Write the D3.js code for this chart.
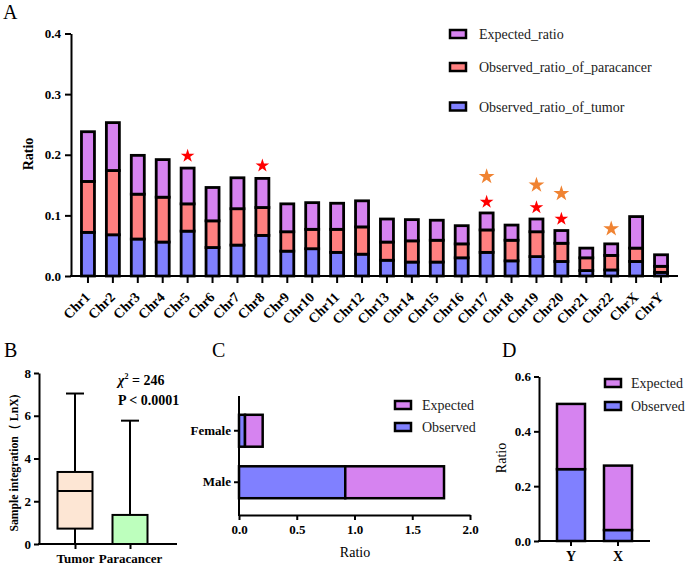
<!DOCTYPE html>
<html><head><meta charset="utf-8">
<script src="https://cdn.jsdelivr.net/npm/d3@7"></script>
<style>body{margin:0;background:#fff}svg{display:block}</style>
</head><body>
<svg id="c" width="685" height="565"></svg>
<script>
// ---------- Panel A data ----------
const chromosomes = ["Chr1","Chr2","Chr3","Chr4","Chr5","Chr6","Chr7","Chr8","Chr9","Chr10","Chr11","Chr12","Chr13","Chr14","Chr15","Chr16","Chr17","Chr18","Chr19","Chr20","Chr21","Chr22","ChrX","ChrY"];
const tumorRatio      = [0.072,0.068,0.061,0.056,0.074,0.047,0.051,0.067,0.041,0.045,0.039,0.036,0.026,0.023,0.023,0.030,0.039,0.025,0.032,0.024,0.009,0.010,0.024,0.006];
const paracancerRatio = [0.084,0.106,0.074,0.074,0.045,0.044,0.060,0.046,0.032,0.032,0.038,0.045,0.030,0.035,0.036,0.023,0.037,0.034,0.041,0.030,0.021,0.024,0.022,0.010];
const expectedRatio   = [0.082,0.079,0.064,0.062,0.059,0.055,0.051,0.048,0.046,0.044,0.043,0.043,0.038,0.035,0.033,0.030,0.028,0.025,0.021,0.021,0.016,0.019,0.052,0.019];
const seriesA = ["Observed_ratio_of_tumor","Observed_ratio_of_paracancer","Expected_ratio"];
const ticksA = [0,0.1,0.2,0.3,0.4];
const redStarChr = ["Chr5","Chr8","Chr17","Chr19","Chr20"];
const redStarY   = [0.198,0.182,0.122,0.113,0.094];
const orangeStarChr = ["Chr17","Chr19","Chr20","Chr22"];
const orangeStarY   = [0.164,0.150,0.136,0.078];

// ---------- Panel B data ----------
const groupsB = ["Tumor","Paracancer"];
const minB = [0,0];
const q1B = [0.72,0];
const medianB = [2.48,0];
const q3B = [3.37,1.36];
const maxB = [7.04,5.77];
const ticksB = [0,2,4,6,8];

// ---------- Panel C data ----------
const sexGroups = ["Female","Male"];
const sexObserved = [0.052,0.92];
const sexExpected = [0.153,0.855];
const ticksC = [0,0.5,1.0,1.5,2.0];

// ---------- Panel D data ----------
const chrGroups = ["Y","X"];
const chrObserved = [0.262,0.040];
const chrExpected = [0.238,0.235];
const ticksD = [0,0.2,0.4,0.6];

const C_EXP = "#d683f0", C_PARA = "#ff8080", C_TUM = "#8080ff";
const C_BOX_T = "#fde6d4", C_BOX_P = "#bdffbd";
const SERIF = "'Liberation Serif','Times New Roman',serif";

const svg = d3.select("#c");
svg.append("rect").attr("width",685).attr("height",565).attr("fill","#fff");

function styleAxis(g, fs, bold){
  g.selectAll("path,line").attr("stroke","#000").attr("stroke-width",2);
  g.selectAll("text").attr("font-family",SERIF).attr("font-size",fs)
    .attr("font-weight",bold?"bold":"normal").attr("fill","#000");
}
function panelLabel(t,x,y){
  svg.append("text").attr("x",x).attr("y",y).text(t)
    .attr("font-family",SERIF).attr("font-size",20).attr("fill","#000");
}
function legendItem(x,y,color,label,off){
  svg.append("rect").attr("x",x).attr("y",y-4).attr("width",16).attr("height",8)
    .attr("fill",color).attr("stroke","#000").attr("stroke-width",2.5);
  svg.append("text").attr("x",x+off).attr("y",y+5).text(label)
    .attr("font-family",SERIF).attr("font-size",14).attr("fill","#222");
}

// ================= Panel A =================
{
  const x = d3.scaleBand().domain(chromosomes).range([75.5,673.5]).paddingInner(0.48).paddingOuter(0.24);
  const y = d3.scaleLinear().domain([0,0.4]).range([276,33.5]);
  const stackData = chromosomes.map((c,i)=>({c, a:tumorRatio[i], b:paracancerRatio[i], e:expectedRatio[i]}));
  const stack = d3.stack().keys(["a","b","e"])(stackData);
  const cols = [C_TUM, C_PARA, C_EXP];
  const g = svg.append("g");
  stack.forEach((layer,li)=>{
    g.selectAll(null).data(layer).enter().append("rect")
      .attr("x",d=>x(d.data.c)+x.bandwidth()/2-6.5)
      .attr("width",13)
      .attr("y",d=>y(d[1]))
      .attr("height",d=>y(d[0])-y(d[1]))
      .attr("fill",cols[li]).attr("stroke","#000").attr("stroke-width",2.8);
  });
  const ya = svg.append("g").attr("transform","translate(71,0)")
    .call(d3.axisLeft(y).tickValues(ticksA).tickFormat(d3.format(".1f")).tickSize(6).tickSizeOuter(0).tickPadding(4));
  styleAxis(ya,13,true);
  const xa = svg.append("g").attr("transform","translate(0,276)")
    .call(d3.axisBottom(x).tickSize(7).tickSizeOuter(0));
  xa.select(".domain").remove();
  styleAxis(xa,14,true);
  xa.selectAll(".tick text").attr("text-anchor","end").attr("dy",null).attr("y",null)
    .attr("transform","translate(3,22) rotate(-45)");
  svg.append("line").attr("x1",70).attr("x2",678).attr("y1",276).attr("y2",276)
    .attr("stroke","#000").attr("stroke-width",2);
  svg.append("text").attr("transform","translate(33,154) rotate(-90)").attr("text-anchor","middle")
    .text("Ratio").attr("font-family",SERIF).attr("font-size",14).attr("font-weight","bold");
  const redStar = d3.symbol().type(d3.symbolStar).size(58);
  const orStar = d3.symbol().type(d3.symbolStar).size(78);
  redStarChr.forEach((c,i)=>{
    svg.append("path").attr("d",redStar()).attr("fill","#ff0000")
      .attr("transform",`translate(${x(c)+x.bandwidth()/2},${y(redStarY[i])})`);
  });
  orangeStarChr.forEach((c,i)=>{
    svg.append("path").attr("d",orStar()).attr("fill","#f08332")
      .attr("transform",`translate(${x(c)+x.bandwidth()/2},${y(orangeStarY[i])})`);
  });
  legendItem(450,34,C_EXP,seriesA[2],29);
  legendItem(450,67,C_PARA,seriesA[1],29);
  legendItem(450,106.5,C_TUM,seriesA[0],29);
  panelLabel("A",3,19);
}

// ================= Panel B =================
{
  const x = d3.scalePoint().domain(groupsB).range([75,130]);
  const y = d3.scaleLinear().domain([0,8]).range([544,373]);
  const fills = [C_BOX_T, C_BOX_P];
  groupsB.forEach((gname,i)=>{
    const cx = x(gname);
    svg.append("line").attr("x1",cx).attr("x2",cx).attr("y1",y(maxB[i])).attr("y2",y(q3B[i]))
      .attr("stroke","#000").attr("stroke-width",2);
    svg.append("line").attr("x1",cx).attr("x2",cx).attr("y1",y(q1B[i])).attr("y2",y(minB[i]))
      .attr("stroke","#000").attr("stroke-width",2);
    svg.append("line").attr("x1",cx-9).attr("x2",cx+9).attr("y1",y(maxB[i])).attr("y2",y(maxB[i]))
      .attr("stroke","#000").attr("stroke-width",2);
    svg.append("rect").attr("x",cx-17.5).attr("width",35).attr("y",y(q3B[i]))
      .attr("height",y(q1B[i])-y(q3B[i])).attr("fill",fills[i]).attr("stroke","#000").attr("stroke-width",2);
    svg.append("line").attr("x1",cx-17.5).attr("x2",cx+17.5).attr("y1",y(medianB[i])).attr("y2",y(medianB[i]))
      .attr("stroke","#000").attr("stroke-width",2);
  });
  const ya = svg.append("g").attr("transform","translate(39,0)")
    .call(d3.axisLeft(y).tickValues(ticksB).tickSize(5).tickSizeOuter(0).tickPadding(3));
  styleAxis(ya,13,true);
  const xa = svg.append("g").attr("transform","translate(0,544)")
    .call(d3.axisBottom(x).tickSize(5).tickSizeOuter(0).tickPadding(5));
  xa.select(".domain").remove();
  styleAxis(xa,13,true);
  svg.append("line").attr("x1",38).attr("x2",177).attr("y1",544).attr("y2",544)
    .attr("stroke","#000").attr("stroke-width",2);
  svg.append("text").attr("transform","translate(18,463) rotate(-90)").attr("text-anchor","middle")
    .attr("textLength",137).attr("lengthAdjust","spacingAndGlyphs")
    .text("Sample integration（ LnX)").attr("font-family",SERIF).attr("font-size",12.5).attr("font-weight","bold");
  const chi = svg.append("text").attr("x",118).attr("y",385).attr("font-family",SERIF)
    .attr("font-size",14).attr("font-weight","bold");
  chi.append("tspan").text("χ").attr("font-style","italic");
  chi.append("tspan").text("2").attr("font-size",8).attr("dy",-6);
  chi.append("tspan").text(" = 246").attr("dy",6);
  svg.append("text").attr("x",118).attr("y",405).text("P < 0.0001")
    .attr("font-family",SERIF).attr("font-size",14).attr("font-weight","bold");
  panelLabel("B",4,357);
}

// ================= Panel C =================
{
  const x = d3.scaleLinear().domain([0,2]).range([239,470]);
  const y = d3.scaleBand().domain(sexGroups).range([405,508]).paddingInner(0.38).paddingOuter(0.19);
  sexGroups.forEach((s,i)=>{
    svg.append("rect").attr("x",x(0)).attr("width",x(sexObserved[i])-x(0))
      .attr("y",y(s)).attr("height",y.bandwidth()).attr("fill",C_TUM).attr("stroke","#000").attr("stroke-width",2.5);
    svg.append("rect").attr("x",x(sexObserved[i])).attr("width",x(sexObserved[i]+sexExpected[i])-x(sexObserved[i]))
      .attr("y",y(s)).attr("height",y.bandwidth()).attr("fill",C_EXP).attr("stroke","#000").attr("stroke-width",2.5);
  });
  const xa = svg.append("g").attr("transform","translate(0,515)")
    .call(d3.axisBottom(x).tickValues(ticksC).tickFormat(d3.format(".1f")).tickSize(5).tickSizeOuter(0).tickPadding(5));
  styleAxis(xa,13,true);
  const ya = svg.append("g").attr("transform","translate(239,0)")
    .call(d3.axisLeft(y).tickSize(5).tickSizeOuter(0).tickPadding(3));
  ya.select(".domain").remove();
  styleAxis(ya,13,true);
  svg.append("line").attr("x1",239).attr("x2",239).attr("y1",396).attr("y2",516)
    .attr("stroke","#000").attr("stroke-width",2);
  svg.append("text").attr("x",355).attr("y",557).attr("text-anchor","middle").text("Ratio")
    .attr("font-family",SERIF).attr("font-size",14);
  legendItem(395,405,C_EXP,"Expected",27);
  legendItem(395,427,C_TUM,"Observed",27);
  panelLabel("C",212,357);
}

// ================= Panel D =================
{
  const x = d3.scaleBand().domain(chrGroups).range([539,650]).paddingInner(0.404).paddingOuter(0.383);
  const y = d3.scaleLinear().domain([0,0.6]).range([541,376.5]);
  chrGroups.forEach((c,i)=>{
    svg.append("rect").attr("x",x(c)).attr("width",x.bandwidth()).attr("y",y(chrObserved[i]))
      .attr("height",y(0)-y(chrObserved[i])).attr("fill",C_TUM).attr("stroke","#000").attr("stroke-width",2.5);
    svg.append("rect").attr("x",x(c)).attr("width",x.bandwidth()).attr("y",y(chrObserved[i]+chrExpected[i]))
      .attr("height",y(chrObserved[i])-y(chrObserved[i]+chrExpected[i])).attr("fill",C_EXP).attr("stroke","#000").attr("stroke-width",2.5);
  });
  const ya = svg.append("g").attr("transform","translate(539,0)")
    .call(d3.axisLeft(y).tickValues(ticksD).tickFormat(d3.format(".1f")).tickSize(5).tickSizeOuter(0).tickPadding(3));
  styleAxis(ya,13,true);
  const xa = svg.append("g").attr("transform","translate(0,541)")
    .call(d3.axisBottom(x).tickSize(5).tickSizeOuter(0).tickPadding(5));
  xa.select(".domain").remove();
  styleAxis(xa,14,true);
  svg.append("line").attr("x1",538).attr("x2",650).attr("y1",541).attr("y2",541)
    .attr("stroke","#000").attr("stroke-width",2);
  svg.append("text").attr("transform","translate(506,458) rotate(-90)").attr("text-anchor","middle")
    .text("Ratio").attr("font-family",SERIF).attr("font-size",14);
  legendItem(605,383,C_EXP,"Expected",26);
  legendItem(605,406,C_TUM,"Observed",26);
  panelLabel("D",502,357);
}
</script>
</body></html>
